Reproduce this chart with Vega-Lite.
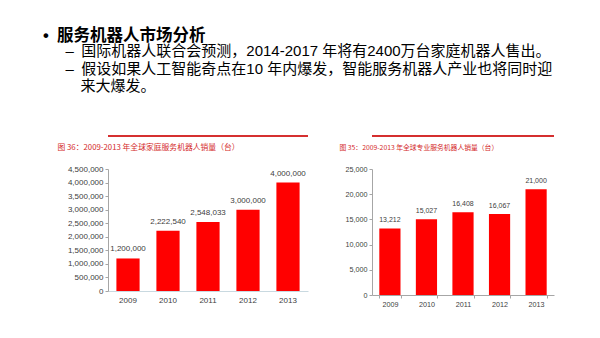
{
  "$schema": "https://vega.github.io/schema/vega-lite/v6.json",
  "background": "white",
  "padding": {"left": 43, "top": 27, "right": 5, "bottom": 5},
  "title": {
    "text": "•\u2002服务机器人市场分析",
    "subtitle": [
      "\u2060\u3000\u2002–\u2002国际机器人联合会预测，2014-2017 年将有2400万台家庭机器人售出。",
      "\u2060\u3000\u2002–\u2002假设如果人工智能奇点在10 年内爆发，智能服务机器人产业也将同时迎",
      "\u2060\u3000\u3000\u2002来大爆发。"
    ],
    "anchor": "start",
    "dx": -14,
    "font": "'Liberation Sans', 'Noto Sans CJK SC'",
    "fontSize": 16.5,
    "fontWeight": "bold",
    "color": "#000000",
    "subtitleFont": "'Liberation Sans', 'Noto Sans CJK SC'",
    "subtitleFontSize": 15,
    "subtitleColor": "#000000",
    "subtitleLineHeight": 17.5,
    "subtitlePadding": 0,
    "offset": 41
  },
  "spacing": 30,
  "hconcat": [
    {
      "width": 200,
      "height": 122,
      "data": {"values": [
        {"year": "2009", "sales": 1200000},
        {"year": "2010", "sales": 2222540},
        {"year": "2011", "sales": 2548033},
        {"year": "2012", "sales": 3000000},
        {"year": "2013", "sales": 4000000}
      ]},
      "layer": [
        {
          "mark": {"type": "bar", "color": "#ff0000"},
          "encoding": {
            "x": {
              "field": "year", "type": "ordinal",
              "scale": {"paddingInner": 0.42, "paddingOuter": 0.21},
              "axis": {
                "title": null, "labelAngle": 0, "ticks": false,
                "labelFont": "Liberation Sans", "labelFontSize": 8, "labelColor": "#404040",
                "domainColor": "#c9d9e0", "labelPadding": 5
              }
            },
            "y": {
              "field": "sales", "type": "quantitative",
              "scale": {"domain": [0, 4500000], "nice": false},
              "axis": {
                "values": [0, 500000, 1000000, 1500000, 2000000, 2500000, 3000000, 3500000, 4000000, 4500000],
                "labelExpr": "format(datum.value, ',')",
                "grid": false,
                "labelFont": "Liberation Sans", "labelFontSize": 8, "labelColor": "#404040",
                "domainColor": "#a6a6a6", "tickColor": "#a6a6a6", "tickSize": 3, "labelPadding": 2,
                "title": "图 36：2009-2013 年全球家庭服务机器人销量（台）",
                "titleFont": "Noto Sans CJK SC", "titleFontSize": 7.8, "titleFontWeight": "normal",
                "titleColor": "#d42a2a", "titleAlign": "left", "titleBaseline": "middle",
                "titleAnchor": null, "titleX": -51, "titleY": -22, "titleAngle": 0
              }
            }
          }
        },
        {
          "mark": {"type": "text", "dy": -9, "font": "Liberation Sans", "fontSize": 8, "color": "#404040"},
          "encoding": {
            "x": {"field": "year", "type": "ordinal"},
            "y": {
              "field": "sales", "type": "quantitative",
              "axis": {
                "values": [0, 500000, 1000000, 1500000, 2000000, 2500000, 3000000, 3500000, 4000000, 4500000],
                "labelExpr": "format(datum.value, ',')",
                "grid": false,
                "labelFont": "Liberation Sans", "labelFontSize": 8, "labelColor": "#404040",
                "domainColor": "#a6a6a6", "tickColor": "#a6a6a6", "tickSize": 3, "labelPadding": 2,
                "title": "图 36：2009-2013 年全球家庭服务机器人销量（台）",
                "titleFont": "Noto Sans CJK SC", "titleFontSize": 7.8, "titleFontWeight": "normal",
                "titleColor": "#d42a2a", "titleAlign": "left", "titleBaseline": "middle",
                "titleAnchor": null, "titleX": -51, "titleY": -22, "titleAngle": 0
              }
            },
            "text": {"field": "sales", "type": "quantitative", "format": ","}
          }
        },
        {
          "mark": {"type": "rule", "color": "#d42a2a", "strokeWidth": 1, "clip": false},
          "encoding": {
            "y": {
              "datum": 5717213, "type": "quantitative",
              "axis": {
                "values": [0, 500000, 1000000, 1500000, 2000000, 2500000, 3000000, 3500000, 4000000, 4500000],
                "labelExpr": "format(datum.value, ',')",
                "grid": false,
                "labelFont": "Liberation Sans", "labelFontSize": 8, "labelColor": "#404040",
                "domainColor": "#a6a6a6", "tickColor": "#a6a6a6", "tickSize": 3, "labelPadding": 2,
                "title": "图 36：2009-2013 年全球家庭服务机器人销量（台）",
                "titleFont": "Noto Sans CJK SC", "titleFontSize": 7.8, "titleFontWeight": "normal",
                "titleColor": "#d42a2a", "titleAlign": "left", "titleBaseline": "middle",
                "titleAnchor": null, "titleX": -51, "titleY": -22, "titleAngle": 0
              }
            }
          }
        }
      ]
    },
    {
      "width": 182,
      "height": 126,
      "data": {"values": [
        {"year": "2009", "sales": 13212},
        {"year": "2010", "sales": 15027},
        {"year": "2011", "sales": 16408},
        {"year": "2012", "sales": 16067},
        {"year": "2013", "sales": 21000}
      ]},
      "layer": [
        {
          "mark": {"type": "bar", "color": "#ff0000"},
          "encoding": {
            "x": {
              "field": "year", "type": "ordinal",
              "scale": {"paddingInner": 0.42, "paddingOuter": 0.2},
              "axis": {
                "title": null, "labelAngle": 0, "ticks": true, "tickBand": "extent", "tickSize": 3,
                "tickColor": "#a6a6a6",
                "labelFont": "Liberation Sans", "labelFontSize": 7.2, "labelColor": "#404040",
                "domainColor": "#a6a6a6", "labelPadding": 2
              }
            },
            "y": {
              "field": "sales", "type": "quantitative",
              "scale": {"domain": [0, 25000], "nice": false},
              "axis": {
                "values": [0, 5000, 10000, 15000, 20000, 25000],
                "labelExpr": "format(datum.value, ',')",
                "grid": false,
                "labelFont": "Liberation Sans", "labelFontSize": 7.2, "labelColor": "#404040",
                "domainColor": "#a6a6a6", "tickColor": "#a6a6a6", "tickSize": 3, "labelPadding": 2,
                "title": "图 35：2009-2013 年全球专业服务机器人销量（台）",
                "titleFont": "Noto Sans CJK SC", "titleFontSize": 6.8, "titleFontWeight": "normal",
                "titleColor": "#d42a2a", "titleAlign": "left", "titleBaseline": "middle",
                "titleAnchor": null, "titleX": -33, "titleY": -22, "titleAngle": 0
              }
            }
          }
        },
        {
          "mark": {"type": "text", "dy": -8, "font": "Liberation Sans", "fontSize": 7, "color": "#404040"},
          "encoding": {
            "x": {"field": "year", "type": "ordinal"},
            "y": {
              "field": "sales", "type": "quantitative",
              "axis": {
                "values": [0, 5000, 10000, 15000, 20000, 25000],
                "labelExpr": "format(datum.value, ',')",
                "grid": false,
                "labelFont": "Liberation Sans", "labelFontSize": 7.2, "labelColor": "#404040",
                "domainColor": "#a6a6a6", "tickColor": "#a6a6a6", "tickSize": 3, "labelPadding": 2,
                "title": "图 35：2009-2013 年全球专业服务机器人销量（台）",
                "titleFont": "Noto Sans CJK SC", "titleFontSize": 6.8, "titleFontWeight": "normal",
                "titleColor": "#d42a2a", "titleAlign": "left", "titleBaseline": "middle",
                "titleAnchor": null, "titleX": -33, "titleY": -22, "titleAngle": 0
              }
            },
            "text": {"field": "sales", "type": "quantitative", "format": ","}
          }
        },
        {
          "mark": {"type": "rule", "color": "#d42a2a", "strokeWidth": 1, "clip": false},
          "encoding": {
            "y": {
              "datum": 31548, "type": "quantitative",
              "axis": {
                "values": [0, 5000, 10000, 15000, 20000, 25000],
                "labelExpr": "format(datum.value, ',')",
                "grid": false,
                "labelFont": "Liberation Sans", "labelFontSize": 7.2, "labelColor": "#404040",
                "domainColor": "#a6a6a6", "tickColor": "#a6a6a6", "tickSize": 3, "labelPadding": 2,
                "title": "图 35：2009-2013 年全球专业服务机器人销量（台）",
                "titleFont": "Noto Sans CJK SC", "titleFontSize": 6.8, "titleFontWeight": "normal",
                "titleColor": "#d42a2a", "titleAlign": "left", "titleBaseline": "middle",
                "titleAnchor": null, "titleX": -33, "titleY": -22, "titleAngle": 0
              }
            }
          }
        }
      ]
    }
  ],
  "config": {"view": {"stroke": null}}
}
